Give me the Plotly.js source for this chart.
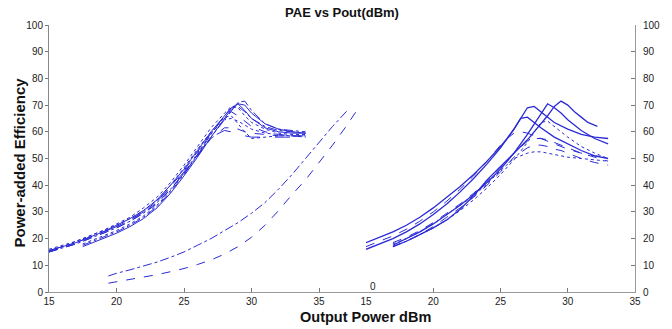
<!DOCTYPE html>
<html>
<head>
<meta charset="utf-8">
<script src="https://cdn.plot.ly/plotly-3.0.1.min.js"></script>
<style>html,body{margin:0;padding:0;background:#fff;}#chart{width:672px;height:329px;}</style>
</head>
<body>
<div id="chart"></div>
<script>
// ---------- Left panel: cluster starting at 15 dBm ----------
const leftAX = [15,16,17,18,19,20,21,22,23,24,25,26,27,28,28.5,29,29.5,30,31,32,33,34];
const leftA1 = [15,16.5,18,20,22,24,26.5,29.5,33.5,38.5,44.5,51,58,64.5,68,71,71.5,68,63,61,60.5,60];
const leftA2 = [15.5,17,18.5,20.5,22.5,25,27.5,30.5,34.5,40,46,53,60,66,69,70.5,68,65,61.5,60,59.5,59.5];
const leftA3 = [16,17.5,19,21,23,25.5,28,31.5,35.5,41,47.5,54.5,61.5,67,69.5,69,66,63.5,61,59.5,59,59];
const leftA4 = [15,16.5,18.5,20.5,22.5,24.5,27,30,34,39.5,45.5,52.5,59.5,66,67.5,66,64,62,60,59,58.5,58.5];
const leftA5 = [15.5,17,19,21,23,25,27.5,30.5,34.5,40,46.5,53.5,60,65.5,66,63,60,57.5,58,58.5,58.5,58];
const leftA6 = [15,16.5,18,20,22,24,26.5,29.5,33,38.5,44.5,51,57.5,61.5,61.5,61,60,59.5,59,58.5,58.5,58];
const leftA7 = [15.5,17,18.5,20.5,22.5,24.5,27,30,34,39,45,51.5,58,60.5,60,59,58.5,58,58,58,58,58];
// ---------- Left panel: cluster starting at 17.5 dBm ----------
const leftBX = [17.5,18,19,20,21,22,23,24,25,26,27,28,28.5,29,29.5,30,31,32,33,34];
const leftB1 = [17,18,20,22,24.5,27.5,31.5,37,43.5,50.5,58,65,68.5,70.5,70,67,63,61,60,59.5];
const leftB2 = [17.5,18.5,20.5,22.5,25,28,32,37.5,44,51.5,59,66,69,69.5,67.5,65,62,60.5,60,59.5];
const leftB3 = [18,19,21,23,25.5,28.5,32.5,38,44.5,52,59.5,64.5,65,64,62.5,61,59.5,59,58.5,58.5];
// ---------- Left panel: two separate low curves ----------
const leftSAX = [19.4,20,21,22,23,24,25,26,27,28,29,30,31,32,33,34,35,36,37.1];
const leftSA  = [6,7,8.3,9.7,11.2,13,15,17.5,20,23,26,29.5,33.5,38.5,44,50,56,62,68];
const leftSBX = [19.4,20,21,22,23,24,25,26,27,28,29,30,31,32,33,34,35,36,37,37.8];
const leftSB  = [3.3,3.8,4.6,5.5,6.5,7.6,8.8,10.3,12,14.2,17,20.5,25,30.5,36.5,42,48.5,55,62,68];
// ---------- Right panel: curves starting at 15 dBm ----------
const rightAX = [15,16,17,18,19,20,21,22,23,24,25,25.5,26,26.5,27,27.5,28,29,30,31,32,33];
const rightA1 = [18.5,20.5,22.5,25,28,31.5,35.5,39.5,44,49,54.5,57.5,61,65,69,69.5,67.5,63.5,61,59,58,57.5];
const rightA2 = [16,18,20,22.5,25.5,29,33,37.5,42.5,48,54,57.5,61,65,65.5,63.5,61.5,58,55.5,53,51,50];
const rightA3 = [17,19,21,23.5,26.5,30,34,38.5,43.5,49,55,57.5,59.5,60,59.5,58.5,57.5,55.5,53.5,52,51,50.5];
// ---------- Right panel: curves starting at 17 dBm ----------
const rightBX = [17,18,19,20,21,22,23,24,25,26,27,27.5,28,28.5,29,29.5,30,31,32,33];
const rightB1 = [17.5,20,22.5,25.5,29,32.5,36.5,41,46,52,59,63,67,70.5,69,67,64.5,60.5,57.5,55.5];
const rightB3 = [17,19,21.5,24,27,30.5,34.5,39,44,49.5,56,60,63.5,64,62,60,58,54.5,52,50];
const rightB4 = [18.5,20.5,23,26,29.5,33,37,41.5,46.5,52,56.5,57.5,57.5,57,56,55,54,52,50.5,49];
const rightB5 = [17,19,21.5,24.5,28,31.5,35.5,40,45,50.5,54,55,55,54.5,53.5,53,52,50,48.5,47.5];
const rightB6 = [18,20,22.5,25.5,29,32.5,36,40.5,45.5,50,52,52.5,52.5,52,51.5,51,50.5,50,49.5,49];
const rightCX = [17,18,19,20,21,22,23,24,25,26,27,27.5,28,28.5,29,29.5,30,30.5,31,31.5,32.2];
const rightC1 = [17,19,21.5,24,27,31,36,42,47,52,57,60,63,66,69.5,71.5,70,67.5,65.5,63.5,62];
// ---------- Tick labels ----------
const xTicks = [15,20,25,30,35];
const yTicks = [0,10,20,30,40,50,60,70,80,90,100];

const BLUE = '#2b2bd6';
function tr(x, y, dash, axis, w) {
  return {x: x, y: y, type: 'scatter', mode: 'lines', hoverinfo: 'skip',
          xaxis: axis === 2 ? 'x2' : 'x', yaxis: axis === 2 ? 'y2' : 'y',
          line: {color: BLUE, width: w || 1, dash: dash}};
}
const data = [
  tr(leftAX, leftA1, 'dashdot', 1), tr(leftAX, leftA2, 'solid', 1), tr(leftAX, leftA3, 'dot', 1),
  tr(leftAX, leftA4, 'dash', 1), tr(leftAX, leftA5, 'dot', 1), tr(leftAX, leftA6, 'dash', 1),
  tr(leftAX, leftA7, 'longdash', 1),
  tr(leftBX, leftB1, 'solid', 1), tr(leftBX, leftB2, 'dashdot', 1), tr(leftBX, leftB3, 'dot', 1),
  tr(leftSAX, leftSA, 'dashdot', 1), tr(leftSBX, leftSB, 'dash', 1),
  tr(rightAX, rightA1, 'solid', 2, 1.3), tr(rightAX, rightA2, 'solid', 2, 1.3), tr(rightAX, rightA3, 'dash', 2),
  tr(rightBX, rightB1, 'solid', 2, 1.3), tr(rightBX, rightB3, 'dot', 2), tr(rightBX, rightB4, 'dash', 2),
  tr(rightBX, rightB5, 'dash', 2), tr(rightBX, rightB6, 'dot', 2),
  tr(rightCX, rightC1, 'solid', 2, 1.3)
];

const tickFont = {family: 'Liberation Sans, Arial, sans-serif', size: 10, color: '#222'};
const split = 0.541;
const layout = {
  width: 672, height: 329,
  margin: {l: 49, r: 37, t: 25, b: 37, pad: 0},
  paper_bgcolor: '#fff', plot_bgcolor: '#fff',
  showlegend: false,
  title: {text: '<b>PAE vs Pout(dBm)</b>', x: 342/672, xanchor: 'center', y: 1 - 12/329, yanchor: 'middle',
          font: {family: 'Liberation Sans Narrow, Liberation Sans, Arial, sans-serif', size: 13, color: '#111'}},
  xaxis: {domain: [0, split], range: [15, 38.48], tickvals: xTicks, ticks: 'inside', ticklen: 4, tickcolor: '#777',
          showline: true, linecolor: '#999', linewidth: 1, showgrid: false, zeroline: false, tickfont: tickFont, anchor: 'y'},
  xaxis3: {overlaying: 'x', side: 'top', range: [15, 38.48], tickvals: [20,25,30,35], ticks: 'inside', ticklen: 5,
           tickcolor: '#bbb', showticklabels: false, showline: false, showgrid: false, zeroline: false, anchor: 'y'},
  yaxis: {domain: [0, 1], range: [0, 100], tickvals: yTicks, ticks: 'outside', ticklen: 3, tickcolor: '#777',
          showline: true, linecolor: '#888', linewidth: 1, showgrid: false, zeroline: false, tickfont: tickFont, anchor: 'x'},
  xaxis2: {domain: [split, 1], range: [15, 35], tickvals: xTicks, ticks: 'inside', ticklen: 4, tickcolor: '#777',
           showline: true, linecolor: '#999', linewidth: 1, showgrid: false, zeroline: false, tickfont: tickFont, anchor: 'y2'},
  yaxis2: {domain: [0, 1], range: [0, 100], tickvals: yTicks, ticks: 'inside', ticklen: 4, tickcolor: '#777', side: 'right',
           showline: true, linecolor: '#999', linewidth: 1, showgrid: false, zeroline: false, tickfont: tickFont,
           anchor: 'x2', ticklabelstandoff: 5},
  annotations: [
    {text: '<b>Output Power dBm</b>', xref: 'paper', yref: 'paper', x: (365-49)/586, y: -(317-292)/267,
     xanchor: 'center', yanchor: 'middle', showarrow: false,
     font: {family: 'Liberation Sans, Arial, sans-serif', size: 14.5, color: '#111'}},
    {text: '<b>Power-added Efficiency</b>', xref: 'paper', yref: 'paper', x: (19-49)/586, y: (292-162.5)/267,
     xanchor: 'center', yanchor: 'middle', textangle: -90, showarrow: false,
     font: {family: 'Liberation Sans, Arial, sans-serif', size: 15, color: '#111'}},
    {text: '0', xref: 'paper', yref: 'paper', x: (373-49)/586, y: (292-286)/267,
     xanchor: 'center', yanchor: 'middle', showarrow: false, font: tickFont}
  ]
};
Plotly.newPlot('chart', data, layout, {staticPlot: true, displayModeBar: false});
</script>
</body>
</html>
